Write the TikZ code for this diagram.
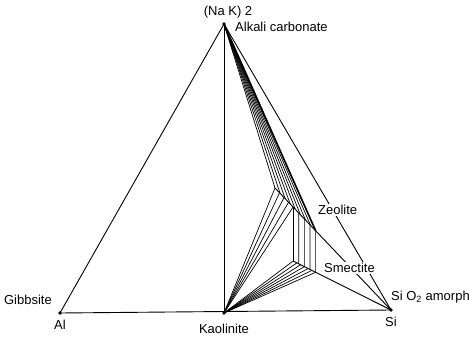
\documentclass[tikz,border=0pt]{standalone}
\usepackage{fontspec}
\setmainfont{Liberation Sans}
\usetikzlibrary{calc}
\begin{document}
\begin{tikzpicture}[x=1pt,y=-1pt,
  lbl/.style={font=\fontsize{13}{15}\selectfont, inner sep=1pt},
  edge/.style={line width=0.9pt},
  tie/.style={line width=0.7pt},
  dot/.style={circle,fill=black,inner sep=0pt,minimum size=3.8pt}]
\useasboundingbox (0,0) rectangle (469,337);
% main points
\coordinate (A) at (224,24);
\coordinate (Al) at (60,313);
\coordinate (K) at (224,313);
\coordinate (Si) at (391,310);
\coordinate (P1) at (275,188);
\coordinate (P5) at ($(P1)!0.156!(Si)$);
\coordinate (P2) at ($(P1)!0.35!(Si)$);
\coordinate (P3) at ($(P5)+(0,54)$);
\coordinate (P4) at ($(P3)!0.23!(Si)$);
% triangle
\draw[edge] (A) -- (Al) -- (Si) -- cycle;
\draw[edge] (A) -- (K);
% zeolite fan from apex
\foreach \i in {0,...,8} {
  \coordinate (z\i) at ($(P1)!\i/8!(P2)$);
  \draw[tie] (A) -- (z\i);
}
\draw[line width=1.6pt] (A) -- (P2);
% boundaries
\draw[edge] (P1) -- (Si);
\draw[edge] (P3) -- (Si);
% tie lines zeolite - smectite
\foreach \i in {0,...,4} {
  \coordinate (t\i) at ($(P5)!\i/4!(P2)$);
  \coordinate (b\i) at ($(P3)!\i/4!(P4)$);
  \draw[tie] (t\i) -- (b\i);
}
% kaolinite fans
\foreach \i in {0,...,4} {
  \coordinate (u\i) at ($(P1)!\i/4!(P5)$);
  \draw[tie] (K) -- (u\i);
}
\foreach \i in {0,...,6} {
  \coordinate (l\i) at ($(P3)!\i/6!(P4)$);
  \draw[tie] (K) -- (l\i);
}
% dots
\node[dot] (dA) at (A) {};
\node[dot] (dAl) at (Al) {};
\node[dot] (dK) at (K) {};
\node[dot] (dSi) at (Si) {};
% labels
\node[lbl] (na) at (228,12) {(Na K) 2};
\node[lbl,anchor=west] (alk) at (234,27) {Alkali carbonate};
\node[lbl,fill=white,anchor=west] (zeo) at (317,210) {Zeolite};
\node[lbl,fill=white,anchor=west] (sme) at (323,268) {Smectite};
\node[lbl,anchor=west,inner sep=0pt] (sio) at (391,297) {Si O\textsubscript{2} amorph};
\node[lbl,anchor=east] (gib) at (53,300) {Gibbsite};
\node[lbl] (al) at (60,325) {Al};
\node[lbl] (kao) at (224,329) {Kaolinite};
\node[lbl] (si) at (391,322) {Si};
\end{tikzpicture}
\end{document}
